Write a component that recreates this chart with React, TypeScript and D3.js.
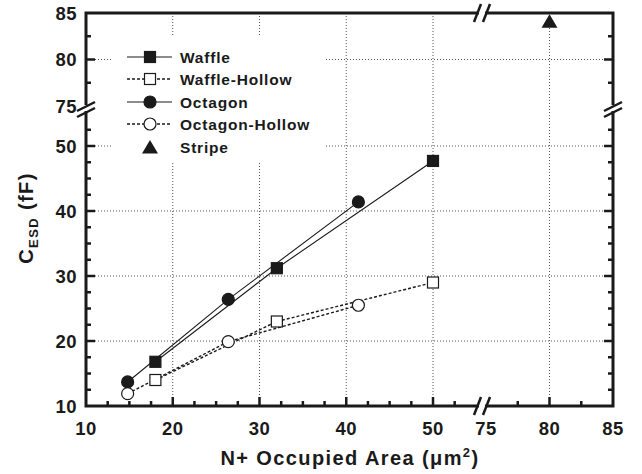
import React from 'react';
import * as d3 from 'd3';

// values
const waffleX = [18, 32, 50];
const waffleY = [16.8, 31.2, 47.7];
const waffleHollowX = [18, 32, 50];
const waffleHollowY = [14.0, 23.0, 29.0];
const octagonX = [14.8, 26.4, 41.4];
const octagonY = [13.7, 26.4, 41.4];
const octagonHollowX = [14.8, 26.4, 41.4];
const octagonHollowY = [11.9, 19.9, 25.5];
const stripeX = [80];
const stripeY = [84.1];

const xTickLabels = [10, 20, 30, 40, 50, 75, 80, 85];
const yTickLabels = [10, 20, 30, 40, 50, 75, 80, 85];
const gridX = [20, 30, 40, 50, 80];
const gridY = [20, 30, 40, 50, 80];

const legendNames = ['Waffle', 'Waffle-Hollow', 'Octagon', 'Octagon-Hollow', 'Stripe'];

const W = 642, H = 474;
const left = 86, right = 613, top = 13, bottom = 406;
const xBreak = 482, yBreak = 108;

// broken axes: two linear pieces each
const xLo = d3.scaleLinear().domain([10, 50]).range([left, 433]);
const xHi = d3.scaleLinear().domain([75, 85]).range([486, right]);
const yLo = d3.scaleLinear().domain([10, 50]).range([bottom, 146]);
const yHi = d3.scaleLinear().domain([75, 85]).range([106, top]);
const x = (v: number) => (v >= 75 ? xHi(v) : xLo(v));
const y = (v: number) => (v >= 75 ? yHi(v) : yLo(v));

const xMinor = d3.range(12.5, 53, 2.5).filter(v => v % 10 !== 0).concat([77.5, 82.5]);
const yMinor = d3.range(12.5, 53, 2.5).filter(v => v % 10 !== 0).concat([77.5, 82.5]);
const xMajorTicks = [20, 30, 40, 50, 80];
const yMajorTicks = [20, 30, 40, 50, 80];

const font = '"Liberation Sans", Arial, Helvetica, sans-serif';
const ink = '#1a1a1a';

const zip = (xs: number[], ys: number[]) => xs.map((v, i) => [v, ys[i]] as [number, number]);

const line = d3.line<[number, number]>().x(d => x(d[0])).y(d => y(d[1]));

function Square({ cx, cy, filled }: { cx: number; cy: number; filled: boolean }) {
  const s = 11;
  return (
    <rect x={cx - s / 2} y={cy - s / 2} width={s} height={s}
      fill={filled ? ink : '#fff'} stroke={ink} strokeWidth={1.2} />
  );
}

function Circle({ cx, cy, filled }: { cx: number; cy: number; filled: boolean }) {
  return <circle cx={cx} cy={cy} r={6} fill={filled ? ink : '#fff'} stroke={ink} strokeWidth={1.2} />;
}

function Triangle({ cx, cy }: { cx: number; cy: number }) {
  return <path d={`M${cx},${cy - 7}L${cx + 8},${cy + 6.5}L${cx - 8},${cy + 6.5}Z`} fill={ink} />;
}

function HBreak({ cx, cy }: { cx: number; cy: number }) {
  // break on a horizontal axis
  return (
    <g>
      <rect x={cx - 3} y={cy - 3} width={6} height={6} fill="#fff" />
      <line x1={cx - 8} y1={cy + 9} x2={cx - 1} y2={cy - 9} stroke={ink} strokeWidth={2.5} />
      <line x1={cx + 1} y1={cy + 9} x2={cx + 8} y2={cy - 9} stroke={ink} strokeWidth={2.5} />
    </g>
  );
}

function VBreak({ cx, cy }: { cx: number; cy: number }) {
  // break on a vertical axis
  return (
    <g>
      <rect x={cx - 3} y={cy - 3} width={6} height={6} fill="#fff" />
      <line x1={cx - 9} y1={cy + 3} x2={cx + 9} y2={cy - 6} stroke={ink} strokeWidth={2.5} />
      <line x1={cx - 9} y1={cy + 9} x2={cx + 9} y2={cy} stroke={ink} strokeWidth={2.5} />
    </g>
  );
}

export default function App() {
  const series = [
    { name: legendNames[0], pts: zip(waffleX, waffleY), dash: undefined, mark: 'sq', filled: true },
    { name: legendNames[1], pts: zip(waffleHollowX, waffleHollowY), dash: '3,2', mark: 'sq', filled: false },
    { name: legendNames[2], pts: zip(octagonX, octagonY), dash: undefined, mark: 'ci', filled: true },
    { name: legendNames[3], pts: zip(octagonHollowX, octagonHollowY), dash: '3,2', mark: 'ci', filled: false },
  ];

  const legendRows = [57, 79, 102, 124, 147];

  return (
    <svg width={W} height={H} style={{ position: 'absolute', left: 0, top: 0, background: '#fff' }}
      fontFamily={font}>
      <rect width={W} height={H} fill="#fff" />

      {/* grid */}
      <g stroke="#555" strokeWidth={1} strokeDasharray="1,2">
        {gridX.map(v => <line key={'gx' + v} x1={x(v)} x2={x(v)} y1={top} y2={bottom} />)}
        {gridY.map(v => <line key={'gy' + v} x1={left} x2={right} y1={y(v)} y2={y(v)} />)}
      </g>

      {/* data lines */}
      {series.map(s => (
        <path key={s.name} d={line(s.pts) || ''} fill="none" stroke={ink}
          strokeWidth={s.dash ? 1.4 : 1.1} strokeDasharray={s.dash} />
      ))}

      {/* markers */}
      {series.map(s => s.pts.map((p, i) =>
        s.mark === 'sq'
          ? <Square key={s.name + i} cx={x(p[0])} cy={y(p[1])} filled={s.filled} />
          : <Circle key={s.name + i} cx={x(p[0])} cy={y(p[1])} filled={s.filled} />
      ))}
      {zip(stripeX, stripeY).map((p, i) => <Triangle key={'st' + i} cx={x(p[0])} cy={y(p[1])} />)}

      {/* legend */}
      <rect x={112} y={36} width={214} height={127} fill="#fff" />
      {series.map((s, i) => {
        const ly = legendRows[i];
        return (
          <g key={'lg' + s.name}>
            <line x1={127} x2={172} y1={ly} y2={ly} stroke={ink} strokeWidth={s.dash ? 1.4 : 1.1}
              strokeDasharray={s.dash} />
            {s.mark === 'sq'
              ? <Square cx={150} cy={ly} filled={s.filled} />
              : <Circle cx={150} cy={ly} filled={s.filled} />}
            <text x={180} y={ly + 5.5} fontSize={15.5} fontWeight="bold" letterSpacing={0.8} fill={ink}>{s.name}</text>
          </g>
        );
      })}
      <Triangle cx={150} cy={legendRows[4]} />
      <text x={180} y={legendRows[4] + 5.5} fontSize={15.5} fontWeight="bold" letterSpacing={0.8} fill={ink}>
        {legendNames[4]}
      </text>

      {/* ticks */}
      <g stroke={ink} strokeWidth={2.5}>
        {xMajorTicks.map(v => <line key={'xt' + v} x1={x(v)} x2={x(v)} y1={bottom} y2={bottom - 9} />)}
        {xMinor.map(v => <line key={'xm' + v} x1={x(v)} x2={x(v)} y1={bottom} y2={bottom - 5} />)}
        {yMajorTicks.map(v => <line key={'yt' + v} x1={left} x2={left + 9} y1={y(v)} y2={y(v)} />)}
        {yMinor.map(v => <line key={'ym' + v} x1={left} x2={left + 5} y1={y(v)} y2={y(v)} />)}
        {yMajorTicks.map(v => <line key={'yrt' + v} x1={right} x2={right - 9} y1={y(v)} y2={y(v)} />)}
        {yMinor.map(v => <line key={'yrm' + v} x1={right} x2={right - 5} y1={y(v)} y2={y(v)} />)}
      </g>

      {/* frame */}
      <rect x={left} y={top} width={right - left} height={bottom - top} fill="none" stroke={ink} strokeWidth={3} />

      {/* axis breaks */}
      <HBreak cx={xBreak} cy={bottom} />
      <HBreak cx={xBreak} cy={top} />
      <VBreak cx={left} cy={yBreak} />
      <VBreak cx={right} cy={yBreak} />

      {/* tick labels */}
      <g fontSize={18.5} fontWeight="bold" fill={ink} letterSpacing={0.4}>
        {xTickLabels.map(v => (
          <text key={'xl' + v} x={x(v)} y={435} textAnchor="middle">{v}</text>
        ))}
        {yTickLabels.map(v => (
          <text key={'yl' + v} x={77} y={y(v) + 6.5} textAnchor="end">{v}</text>
        ))}
      </g>

      {/* axis titles */}
      <text x={350} y={465} textAnchor="middle" fontSize={20} fontWeight="bold" letterSpacing={1.4} fill={ink}>
        N+ Occupied Area (<tspan>μ</tspan>m<tspan fontSize={13} dy={-8}>2</tspan><tspan dy={8}>)</tspan>
      </text>
      <text transform={`translate(33,${218}) rotate(-90)`} textAnchor="middle" fontSize={20} fontWeight="bold"
        letterSpacing={1.4} fill={ink}>
        C<tspan fontSize={13} dy={5}>ESD</tspan><tspan dy={-5}> (fF)</tspan>
      </text>
    </svg>
  );
}
